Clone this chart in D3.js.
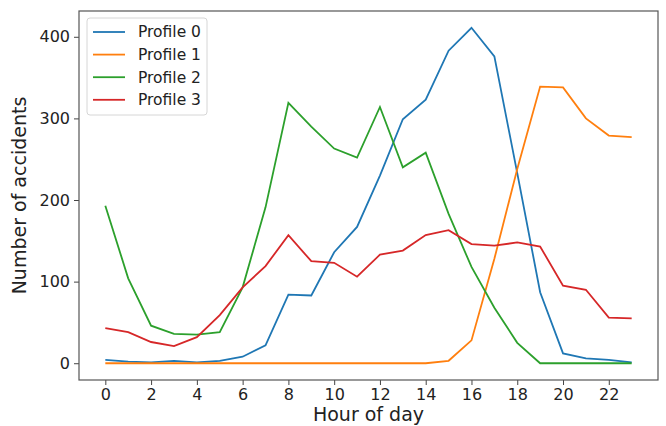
<!DOCTYPE html>
<html>
<head>
  <script src="https://d3js.org/d3.v7.min.js"></script>
  <style>
    body { margin: 0; background: #fff; }
    text { font-family: "DejaVu Sans", sans-serif; fill: #222; }
    .line { fill: none; stroke-width: 1.8px; }
  </style>
</head>
<body>
  <script>
    // hours and accident counts per profile
    var hours = d3.range(0, 24);
    var xTicks = [0, 2, 4, 6, 8, 10, 12, 14, 16, 18, 20, 22];
    var yTicks = [0, 100, 200, 300, 400];
    var names = ["Profile 0", "Profile 1", "Profile 2", "Profile 3"];
    var colors = ["#1f77b4", "#ff7f0e", "#2ca02c", "#d62728"];

    var profile0 = [4, 2, 1, 3, 1, 3, 8, 22, 84, 83, 136, 167, 230, 299, 323, 383, 411, 376, 233, 87, 12, 6, 4, 1];
    var profile1 = [0, 0, 0, 0, 0, 0, 0, 0, 0, 0, 0, 0, 0, 0, 0, 3, 28, 128, 238, 339, 338, 300, 279, 277];
    var profile2 = [193, 104, 46, 36, 35, 38, 93, 191, 319, 290, 263, 252, 314, 240, 258, 183, 118, 68, 25, 0, 0, 0, 0, 0];
    var profile3 = [43, 38, 26, 21, 32, 59, 93, 119, 157, 125, 123, 106, 133, 138, 157, 163, 146, 144, 148, 143, 95, 90, 56, 55];
    var series = [profile0, profile1, profile2, profile3];

    var margin = { top: 11, right: 8, bottom: 46, left: 79 },
      width = 666 - margin.left - margin.right,
      height = 426 - margin.top - margin.bottom;

    var x = d3.scaleLinear().domain([-1.15, 24.15]).range([0, width]);
    var y = d3.scaleLinear().domain([-20.55, 431.6]).range([height, 0]);

    var svg = d3.select("body").append("svg")
      .attr("width", 666)
      .attr("height", 426)
      .append("g")
      .attr("transform", "translate(" + margin.left + "," + margin.top + ")");

    // lines
    var line = d3.line()
      .x(function (d, i) { return x(hours[i]); })
      .y(function (d) { return y(d); });

    series.forEach(function (s, k) {
      svg.append("path")
        .datum(s)
        .attr("class", "line")
        .attr("stroke", colors[k])
        .attr("d", line);
    });

    // axes
    var xAxis = svg.append("g")
      .attr("transform", "translate(0," + height + ")")
      .call(d3.axisBottom(x).tickValues(xTicks).tickSize(5).tickPadding(4).tickSizeOuter(0));
    var yAxis = svg.append("g")
      .call(d3.axisLeft(y).tickValues(yTicks).tickSize(5).tickPadding(4).tickSizeOuter(0));
    [xAxis, yAxis].forEach(function (a) {
      a.selectAll("text").style("font-size", "16px").attr("fill", "#222");
      a.selectAll("line").attr("stroke", "#444");
      a.select(".domain").remove();
    });

    // frame
    svg.append("rect")
      .attr("width", width).attr("height", height)
      .attr("fill", "none").attr("stroke", "#555").attr("stroke-width", 1.2);

    // axis labels
    svg.append("text")
      .attr("x", width / 2).attr("y", height + 41)
      .attr("text-anchor", "middle").style("font-size", "19px")
      .text("Hour of day");
    svg.append("text")
      .attr("transform", "translate(-53," + height / 2 + ") rotate(-90)")
      .attr("text-anchor", "middle").style("font-size", "19px")
      .text("Number of accidents");

    // legend
    var lg = svg.append("g").attr("transform", "translate(8,7)");
    lg.append("rect")
      .attr("width", 120).attr("height", 97).attr("rx", 3)
      .attr("fill", "#fff").attr("fill-opacity", 0.8)
      .attr("stroke", "#d6d6d6");
    names.forEach(function (n, k) {
      var yy = 14 + k * 22.6;
      lg.append("line")
        .attr("x1", 6).attr("x2", 38).attr("y1", yy).attr("y2", yy)
        .attr("stroke", colors[k]).attr("stroke-width", 1.8);
      lg.append("text")
        .attr("x", 51).attr("y", yy).attr("dy", "0.35em")
        .style("font-size", "15.5px")
        .text(n);
    });
  </script>
</body>
</html>
